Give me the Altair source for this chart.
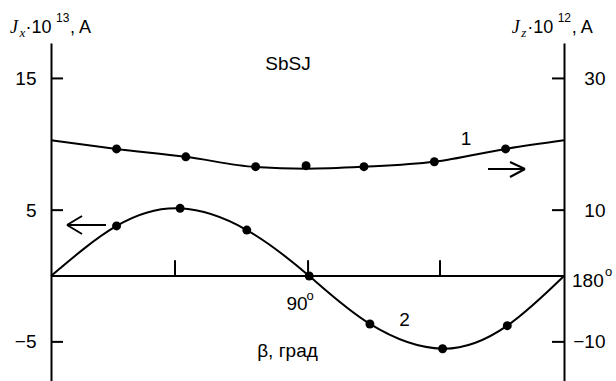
import altair as alt
import pandas as pd

# ---- data ----
# curve 1 : J_z * 10^12 (right axis)
beta_1 = [23.0, 47.3, 71.8, 89.5, 109.8, 134.5, 159.5]
jz_pts = [19.3, 18.1, 16.6, 16.75, 16.6, 17.35, 19.3]
beta_1_line = [0, 23.0, 47.3, 71.8, 89.5, 109.8, 134.5, 159.5, 180]
jz_line = [20.6, 19.3, 18.1, 16.55, 16.3, 16.6, 17.35, 19.3, 20.6]

# curve 2 : J_x * 10^13 (left axis)
beta_2 = [23.0, 45.3, 68.7, 90.6, 111.9, 137.4, 160.1]
jx_pts = [3.8, 5.14, 3.49, 0.0, -3.64, -5.52, -3.77]
beta_2_line = [0, 23.0, 45.3, 68.7, 90.6, 111.9, 137.4, 160.1, 180]
jx_line = [0.0, 3.8, 5.14, 3.49, 0.0, -3.64, -5.52, -3.77, 0.0]

left_ticks = [15, 5, -5]
right_ticks = [30, 10, -10]
x_ticks = [43.5, 90.2, 136.5]

W, H = 513, 338
FONT = "Liberation Sans"
LBL = 19

xs = alt.Scale(domain=[0, 180], nice=False, zero=False)
ysL = alt.Scale(domain=[-7.97, 17.69], nice=False, zero=False)
ysR = alt.Scale(domain=[-15.94, 35.38], nice=False, zero=False)

axL = alt.Axis(orient="left", values=left_ticks, ticks=False, tickSize=0,
               labelPadding=15, labelFontSize=LBL, labelFont=FONT,
               labelColor="black", domainColor="black", domainWidth=2,
               grid=False, title=None)
axR = alt.Axis(orient="right", values=right_ticks, ticks=False, tickSize=0,
               labelPadding=41, labelAlign="right", labelFontSize=LBL,
               labelFont=FONT, labelColor="black", domainColor="black",
               domainWidth=2, grid=False, title=None)

X = lambda f: alt.X(f, type="quantitative", scale=xs, axis=None)

df1l = pd.DataFrame({"b": beta_1_line, "v": jz_line})
df1p = pd.DataFrame({"b": beta_1, "v": jz_pts})
df2l = pd.DataFrame({"b": beta_2_line, "v": jx_line})
df2p = pd.DataFrame({"b": beta_2, "v": jx_pts})
dfLt = pd.DataFrame({"v": left_ticks})
dfRt = pd.DataFrame({"v": right_ticks})
dfXt = pd.DataFrame({"b": x_ticks, "lo": [0.0] * 3, "hi": [1.2] * 3})
dfXa = pd.DataFrame({"b": [0], "b2": [180], "v": [0]})

YL = lambda f: alt.Y(f, type="quantitative", scale=ysL, axis=axL)
YR = lambda f: alt.Y(f, type="quantitative", scale=ysR, axis=axR)

line2 = alt.Chart(df2l).mark_line(color="black", strokeWidth=2, interpolate="natural").encode(
    x=X("b"), y=YL("v"))
pts2 = alt.Chart(df2p).mark_point(filled=True, color="black", size=80, opacity=1).encode(
    x=X("b"), y=YL("v"))
lt = alt.Chart(dfLt).mark_rule(color="black", strokeWidth=2).encode(
    x=alt.value(0), x2=alt.value(12), y=YL("v"))
xaxis = alt.Chart(dfXa).mark_rule(color="black", strokeWidth=2).encode(
    x=X("b"), x2="b2", y=YL("v"))
xt = alt.Chart(dfXt).mark_rule(color="black", strokeWidth=2).encode(
    x=X("b"), y=YL("lo"), y2="hi")

line1 = alt.Chart(df1l).mark_line(color="black", strokeWidth=2, interpolate="monotone").encode(
    x=X("b"), y=YR("v"))
pts1 = alt.Chart(df1p).mark_point(filled=True, color="black", size=80, opacity=1).encode(
    x=X("b"), y=YR("v"))
rt = alt.Chart(dfRt).mark_rule(color="black", strokeWidth=2).encode(
    x=alt.value(W - 12), x2=alt.value(W), y=YR("v"))

dummy = pd.DataFrame({"a": [0]})


def note(text, x, y, size=LBL, font=FONT, style="normal", align="left", baseline="alphabetic"):
    return alt.Chart(dummy).mark_text(
        text=text, font=font, fontSize=size, fontStyle=style, align=align,
        baseline=baseline, color="black").encode(x=alt.value(x), y=alt.value(y))


def seg(x1, y1, x2, y2):
    return alt.Chart(dummy).mark_rule(color="black", strokeWidth=2).encode(
        x=alt.value(x1), y=alt.value(y1), x2=alt.value(x2), y2=alt.value(y2))


ox, oy = 51, 43  # plot origin in page pixels
notes = []
# axis titles
for base, sub, sup in [(10, "x", "13"), (511.7, "z", "12")]:
    notes += [
        note("J", base - ox, 33 - oy, size=18, font="Liberation Serif", style="italic"),
        note(sub, base + 9.5 - ox, 37 - oy, size=13, font="Liberation Serif", style="italic"),
        note("·10", base + 15.5 - ox, 33 - oy, size=18),
        note(sup, base + 46 - ox, 22 - oy, size=12),
        note(", A", base + 60 - ox, 33 - oy, size=18),
    ]
notes += [
    note("SbSJ", 288 - ox, 70 - oy, size=19, align="center"),
    note("1", 466 - ox, 145 - oy, size=19, align="center"),
    note("2", 404.5 - ox, 326 - oy, size=19, align="center"),
    note("90", 297 - ox, 310 - oy, size=19, align="center"),
    note("o", 310 - ox, 300 - oy, size=13, align="center"),
    note("180", 572 - ox, 287 - oy, size=19),
    note("o", 608.5 - ox, 276 - oy, size=13, align="center"),
    note("β, град", 287.5 - ox, 357 - oy, size=19, align="center"),
]
# arrows
arrows = [
    seg(67 - ox, 225 - oy, 106 - ox, 225 - oy),
    seg(67 - ox, 225 - oy, 82 - ox, 216 - oy),
    seg(67 - ox, 225 - oy, 82 - ox, 234 - oy),
    seg(488 - ox, 169 - oy, 525 - ox, 169 - oy),
    seg(525 - ox, 169 - oy, 510 - ox, 162 - oy),
    seg(525 - ox, 169 - oy, 510 - ox, 177 - oy),
]

left_group = alt.layer(xaxis, xt, lt, line2, pts2)
right_group = alt.layer(rt, line1, pts1)

chart = alt.layer(left_group, right_group, *notes, *arrows).resolve_scale(
    y="independent"
).properties(
    width=W, height=H,
    padding={"left": ox, "top": oy, "right": 616 - ox - W, "bottom": 0},
    autosize=alt.AutoSizeParams(type="none"),
    background="white",
).configure_view(stroke=None)

chart.save("out.html", embed_options={"renderer": "svg", "actions": False})
